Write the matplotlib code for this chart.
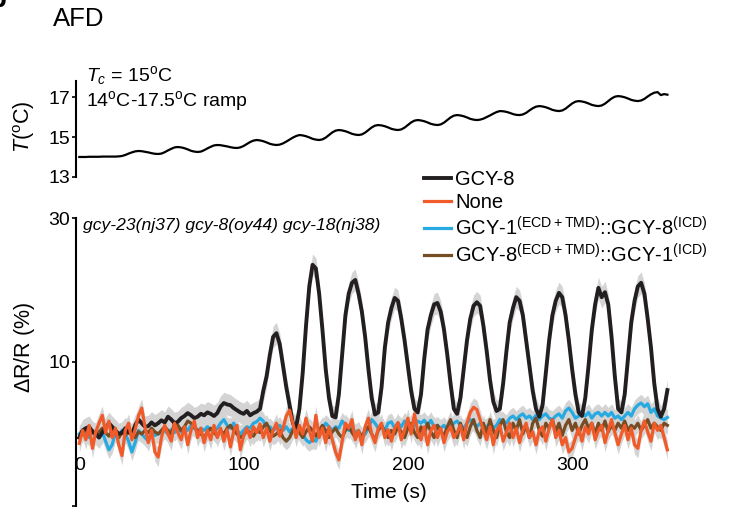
import numpy as np
import matplotlib
matplotlib.use("Agg")
import matplotlib.pyplot as plt

plt.rcParams['font.family'] = ['Liberation Sans', 'DejaVu Sans']
plt.rcParams['mathtext.fontset'] = 'custom'
plt.rcParams['mathtext.rm'] = 'Liberation Sans'
plt.rcParams['mathtext.it'] = 'Liberation Sans:italic'
plt.rcParams['mathtext.bf'] = 'Liberation Sans:bold'

# temperature protocol (deg C), sampled every 2 s
temp_c = [
    14.00, 14.00, 14.00, 14.01, 14.01, 14.01, 14.01, 14.02, 14.02, 14.02,
    14.02, 14.02, 14.03, 14.05, 14.10, 14.17, 14.23, 14.28, 14.30, 14.29,
    14.26, 14.23, 14.19, 14.16, 14.15, 14.17, 14.24, 14.33, 14.41, 14.48,
    14.50, 14.48, 14.44, 14.38, 14.31, 14.27, 14.25, 14.27, 14.34, 14.43,
    14.51, 14.58, 14.60, 14.59, 14.56, 14.53, 14.49, 14.46, 14.45, 14.48,
    14.55, 14.65, 14.75, 14.82, 14.85, 14.83, 14.79, 14.73, 14.66, 14.62,
    14.60, 14.62, 14.68, 14.77, 14.87, 14.97, 15.05, 15.10, 15.08, 15.04,
    14.98, 14.91, 14.87, 14.85, 14.88, 14.97, 15.10, 15.23, 15.32, 15.35,
    15.33, 15.29, 15.23, 15.16, 15.12, 15.10, 15.13, 15.22, 15.35, 15.48,
    15.57, 15.60, 15.58, 15.54, 15.48, 15.41, 15.37, 15.35, 15.38, 15.47,
    15.60, 15.73, 15.82, 15.85, 15.83, 15.79, 15.73, 15.66, 15.62, 15.60,
    15.63, 15.72, 15.85, 15.98, 16.07, 16.10, 16.08, 16.04, 15.98, 15.91,
    15.87, 15.85, 15.87, 15.92, 16.00, 16.08, 16.17, 16.25, 16.30, 16.29,
    16.26, 16.21, 16.15, 16.11, 16.10, 16.13, 16.21, 16.33, 16.44, 16.52,
    16.55, 16.53, 16.49, 16.43, 16.36, 16.32, 16.30, 16.33, 16.42, 16.55,
    16.68, 16.77, 16.80, 16.78, 16.74, 16.68, 16.61, 16.57, 16.55, 16.58,
    16.67, 16.80, 16.93, 17.02, 17.05, 17.03, 16.99, 16.93, 16.86, 16.82,
    16.80, 16.83, 16.91, 17.03, 17.14, 17.22, 17.25, 17.10, 17.15, 17.12,
]

# dR/R (%) traces, every 2 s
gcy8 = [
    -0.5, 0.5, 0.8, 1.0, 0.3, 0.0, -0.5, 0.2, 0.8, 1.5,
    1.0, 0.5, 0.0, 0.2, 0.8, 0.2, 0.0, 1.2, 2.0, 1.5,
    1.0, 1.1, 1.6, 1.2, 1.5, 1.9, 1.6, 2.4, 2.0, 1.5,
    1.7, 2.2, 2.5, 2.9, 2.6, 2.2, 2.4, 2.8, 2.6, 3.0,
    2.8, 2.5, 2.9, 3.8, 4.3, 4.1, 4.0, 3.6, 3.3, 3.0,
    2.8, 3.2, 2.6, 2.9, 3.1, 3.5, 6.0, 8.0, 11.0, 13.5,
    14.0, 12.5, 9.5, 6.5, 4.0, 1.5, 1.0, 3.5, 8.5, 15.0,
    20.5, 23.5, 23.0, 19.5, 14.5, 9.0, 5.0, 2.5, 2.3, 5.5,
    11.0, 16.5, 19.5, 21.0, 21.4, 19.5, 17.0, 13.5, 9.0, 5.0,
    2.7, 3.0, 6.5, 12.0, 15.5, 17.5, 18.9, 18.5, 16.0, 13.0,
    9.5, 6.0, 3.5, 3.0, 5.5, 10.5, 14.5, 16.5, 18.0, 18.2,
    17.0, 14.5, 11.0, 7.0, 3.5, 2.8, 5.0, 9.0, 13.0, 16.0,
    17.8, 18.3, 17.8, 15.0, 11.5, 7.5, 4.5, 3.2, 3.5, 7.0,
    11.5, 15.5, 17.5, 19.0, 18.5, 16.5, 13.0, 9.5, 6.0, 3.5,
    2.4, 4.0, 8.5, 13.0, 16.5, 18.5, 19.6, 19.0, 16.5, 13.0,
    9.0, 5.5, 3.0, 2.5, 5.0, 9.5, 14.5, 18.0, 20.3, 19.0,
    19.7, 18.0, 13.5, 8.0, 3.5, 3.0, 5.5, 10.5, 15.5, 18.5,
    20.5, 21.0, 19.5, 16.0, 12.0, 7.0, 3.5, 2.4, 3.5, 6.1,
]
none = [
    -1.3, 0.5, -0.8, 1.2, -2.0, 0.3, 1.5, 2.6, 0.2, 1.8,
    -0.5, 0.8, -1.5, -3.0, 0.5, 1.5, -0.8, 0.6, 2.5, 3.6,
    1.0, -1.2, 0.5, -2.5, -3.2, -0.5, 1.2, 0.0, -1.0, 1.5,
    0.2, -0.8, 1.0, -1.5, 0.5, 1.8, -0.5, 0.8, -1.2, 0.5,
    -0.8, 1.2, -0.5, 0.8, -1.0, 0.6, -1.8, 0.4, 1.2, -2.2,
    -0.3, 0.8, -0.5, 1.0, 0.2, 1.4, -0.5, 0.8, -1.0, 0.5,
    1.5, -0.3, 0.8, 2.5, 3.3, 1.5, -0.5, 1.2, 0.0, 2.2,
    0.5, -1.0, 2.6, -0.5, 0.8, -1.2, 1.0, -0.8, -2.5, -3.6,
    -1.0, 1.5, 0.8, 2.0, -0.8, 0.5, -1.5, 1.0, 2.2, 0.0,
    -1.2, 0.8, 1.5, -0.5, 0.6, -1.0, 0.8, 1.6, -0.8, 0.5,
    2.2, 0.0, 2.8, 0.3, -0.8, 1.0, -1.5, 0.5, 1.2, -0.5,
    0.8, -1.2, 0.3, 1.0, -0.5, 0.2, 1.2, -0.8, 1.5, 3.0,
    3.7, 3.4, 2.0, 0.5, -0.8, 1.0, -1.5, 0.5, 1.2, -1.0,
    0.2, 1.5, -0.5, 0.8, -1.2, 0.5, 1.5, -0.5, 0.3, -1.5,
    0.5, 1.0, -1.0, 0.8, 2.0, -0.5, 0.5, -1.5, -0.5, -2.5,
    -2.0, -0.5, 0.8, -1.0, 1.0, 0.0, 1.5, -0.8, 0.5, 1.2,
    -1.2, 0.5, 2.0, 0.2, -1.5, 0.0, 1.2, -0.8, 0.8, -1.5,
    -2.0, 0.5, 1.8, 0.3, -1.0, 1.5, 0.5, 1.2, -0.5, -2.2,
]
gcy1_gcy8 = [
    0.0, 0.5, 0.2, -0.5, 0.3, 0.0, -0.5, 0.3, -1.0, -2.2,
    -1.5, 0.2, -0.5, 0.5, 0.0, -1.0, -2.5, -1.2, 0.5, 0.0,
    -0.5, -1.0, 0.3, -0.2, 0.0, 0.2, 0.5, 0.0, 0.6, 0.2,
    0.8, 0.3, 1.0, 0.5, 1.2, 0.8, 0.3, 0.8, 0.5, 1.0,
    0.6, 0.3, 0.8, 1.5, 2.0, 1.2, 0.8, 1.5, 0.5, 0.0,
    0.5, 1.0, 0.8, 1.5, 1.7, 2.2, 1.8, 0.8, 1.0, 0.5,
    0.8, 1.2, 0.5, 1.0, 0.3, 0.8, 0.5, 1.0, 0.0, -0.8,
    -1.2, -0.8, -1.0, 0.3, 0.8, 1.5, 1.0, 0.5, 1.0, 0.8,
    1.8, 1.2, 0.5, 1.0, 0.2, 0.5, -0.5, 0.0, 0.8, 2.0,
    1.5, 0.8, 1.2, 0.5, 1.5, 1.7, 0.8, 1.5, 1.0, 1.8,
    1.2, 0.8, 1.2, 1.8, 1.5, 1.9, 1.2, 1.9, 1.0, 1.2,
    0.8, 1.2, 0.5, 1.0, 1.5, 1.8, 1.2, 0.8, 1.5, 2.0,
    1.5, 1.0, 1.5, 0.8, 1.0, 1.5, 0.8, 1.2, 2.0, 1.8,
    1.5, 2.2, 2.5, 2.0, 2.5, 2.8, 2.2, 2.5, 2.0, 2.6,
    2.0, 2.5, 2.8, 2.2, 2.0, 2.5, 2.8, 2.2, 3.2, 3.6,
    3.0, 2.2, 2.5, 3.0, 2.5, 3.0, 2.2, 2.8, 3.0, 2.5,
    3.0, 2.5, 3.0, 2.2, 2.5, 2.0, 2.5, 3.0, 2.5, 3.5,
    4.0, 4.3, 3.8, 4.2, 3.0, 3.5, 2.5, 2.2, 2.0, 2.3,
]
gcy8_gcy1 = [
    -0.5, 0.2, 0.5, 0.0, 0.5, -0.2, 0.3, 0.8, 0.2, -0.3,
    0.5, 0.0, -0.5, 0.2, -0.2, 0.5, 0.0, -0.5, 0.3, 0.0,
    0.5, 0.2, 0.8, 0.3, 0.0, 0.5, 1.0, 0.5, 0.0, 1.5,
    1.2, 0.5, 1.0, 1.8, 1.5, 1.0, 0.5, 0.0, -0.5, 0.3,
    0.8, 0.2, -0.3, 0.5, 0.0, 0.8, 1.2, 0.5, 0.0, -0.5,
    -0.2, 0.5, 0.2, -0.3, 0.5, 0.2, 1.0, 1.5, 0.5, -0.3,
    0.0, 0.5, -0.5, -1.0, -0.5, 0.5, 1.0, 0.2, -0.5, 0.3,
    1.0, 0.5, -0.3, 0.5, 1.2, 0.5, -0.5, 0.3, 0.8, 0.0,
    -0.5, 0.5, 1.0, 0.2, -0.5, 0.3, -0.3, 0.5, 1.0, 0.0,
    -0.8, 0.5, 1.2, 0.3, -0.5, 0.5, 0.0, 1.0, 0.3, -0.5,
    0.8, 1.5, 0.2, -0.5, 1.0, 0.0, 1.5, 0.3, -0.5, 1.2,
    0.5, -0.3, 1.0, 2.0, 0.5, -0.5, 1.5, 0.2, -0.5, 1.0,
    2.0, 0.5, -0.5, 1.5, 0.0, 2.0, 0.5, -0.5, 1.2, 2.0,
    0.3, -0.5, 1.5, 0.5, 2.0, 0.0, 1.2, -0.5, 1.5, 2.2,
    0.5, -0.3, 1.5, 0.8, 2.0, 0.3, 1.5, -0.2, 1.2, 2.0,
    0.5, 1.5, 0.0, 1.2, 2.0, 0.8, 1.5, 0.0, 1.5, 0.5,
    1.8, 0.3, 1.2, 0.5, 1.5, 0.8, 1.8, 0.5, 1.2, 0.8,
    1.5, 0.5, 1.2, 2.0, 0.8, 1.5, 1.0, 0.5, 1.5, 1.2,
]
labels = ['GCY-8', 'None',
          'GCY-1$^{\\mathrm{(ECD+TMD)}}$::GCY-8$^{\\mathrm{(ICD)}}$',
          'GCY-8$^{\\mathrm{(ECD+TMD)}}$::GCY-1$^{\\mathrm{(ICD)}}$']
colors = ['#231f20', '#f15a29', '#27aae1', '#754c24']
sem = [1.5, 1.3, 1.2, 1.2]

n = len(gcy8)
assert len(temp_c) == n and len(none) == n and len(gcy1_gcy8) == n and len(gcy8_gcy1) == n
time_s = np.arange(n) * 2

fig = plt.figure(figsize=(7.43, 5.07), dpi=100)
ax_t = fig.add_axes([0.1023, 0.651, 0.8048, 0.189])
ax = fig.add_axes([0.1023, 0.002, 0.8048, 0.568])

# temperature panel
ax_t.plot(time_s, temp_c, color='black', lw=1.6)
ax_t.set_xlim(-2, 362)
ax_t.set_ylim(13, 17.8)
ax_t.set_yticks([13, 15, 17])
ax_t.tick_params(axis='y', labelsize=14, length=3, width=1.2, pad=1)
ax_t.xaxis.set_visible(False)
for s in ['top', 'right', 'bottom']:
    ax_t.spines[s].set_visible(False)
ax_t.spines['left'].set_linewidth(1.5)
ax_t.set_ylabel('$T$($^{\\mathrm{o}}$C)', fontsize=15.5)
ax_t.yaxis.set_label_coords(-0.066, 0.52)

# dR/R panel
series = [gcy8, none, gcy1_gcy8, gcy8_gcy1]
for vals, sd in zip(series, sem):
    v = np.array(vals)
    ax.fill_between(time_s, v - sd, v + sd, color='#d4d4d4', lw=0)
handles = {}
for idx in [2, 3, 0, 1]:
    lw = 2.8 if idx == 0 else 2.3
    line, = ax.plot(time_s, series[idx], color=colors[idx], lw=lw, label=labels[idx])
    handles[idx] = line

ax.set_xlim(-2, 362)
ax.set_ylim(-10, 30)
ax.set_yticks([-10, 10, 30])
ax.set_yticklabels(['', '10', '30'])
ax.set_xticks([0, 100, 200, 300])
ax.tick_params(axis='y', labelsize=14, length=3, width=1.2, pad=1)
ax.tick_params(axis='x', labelsize=14, length=0, pad=3)
for s in ['top', 'right']:
    ax.spines[s].set_visible(False)
ax.spines['bottom'].set_position(('data', -2.6))
ax.spines['bottom'].set_visible(False)
ax.spines['left'].set_linewidth(1.5)
ax.set_ylabel('$\\Delta$R/R (%)', fontsize=15.5)
ax.yaxis.set_label_coords(-0.066, 0.552)
ax.set_xlabel('Time (s)', fontsize=15)
ax.xaxis.set_label_coords(0.523, 0.08)

ax.legend([handles[i] for i in range(4)], labels, loc='upper left',
          bbox_to_anchor=(0.557, 0.685), bbox_transform=fig.transFigure,
          frameon=False, fontsize=14.5, handlelength=1.35, handletextpad=0.2,
          labelspacing=0.2, borderpad=0)

fig.text(0.071, 0.962, 'AFD', fontsize=18.5, va='center', ha='left')
fig.text(0.116, 0.852, '$T_c$ = 15$^{\\mathrm{o}}$C', fontsize=14, va='center')
fig.text(0.116, 0.800, '14$^{\\mathrm{o}}$C-17.5$^{\\mathrm{o}}$C ramp', fontsize=14, va='center')
fig.text(0.112, 0.556, 'gcy-23(nj37) gcy-8(oy44) gcy-18(nj38)', fontsize=12.6,
         style='italic', va='center')
fig.text(0.008, 1.0, 'b', fontsize=20, fontweight='bold', ha='right', va='center')

fig.savefig('out.png', dpi=100)
